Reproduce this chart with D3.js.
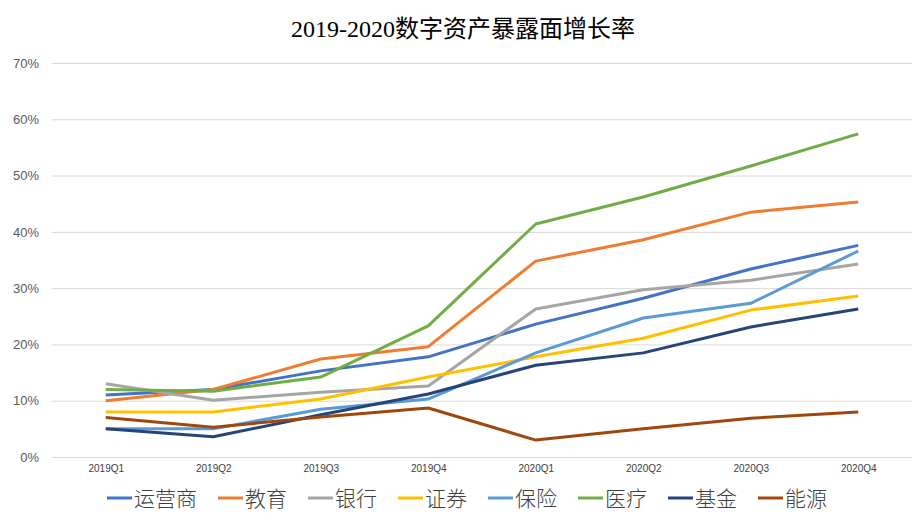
<!DOCTYPE html>
<html>
<head>
<meta charset="utf-8">
<script src="https://cdn.jsdelivr.net/npm/d3@7"></script>
<style>
  body { margin: 0; background: #fff; }
</style>
</head>
<body>
<div id="chart"></div>
<script>
var quarters = ["2019Q1", "2019Q2", "2019Q3", "2019Q4", "2020Q1", "2020Q2", "2020Q3", "2020Q4"];
var seriesNames = ["运营商", "教育", "银行", "证券", "保险", "医疗", "基金", "能源"];
var colors = ["#4472C4", "#ED7D31", "#A5A5A5", "#FFC000", "#5B9BD5", "#70AD47", "#264478", "#9E480E"];

var yunying = [0.110, 0.120, 0.153, 0.178, 0.236, 0.282, 0.334, 0.376];
var jiaoyu  = [0.100, 0.120, 0.174, 0.196, 0.348, 0.386, 0.435, 0.453];
var yinhang = [0.130, 0.101, 0.115, 0.126, 0.263, 0.297, 0.314, 0.343];
var zhengquan = [0.080, 0.080, 0.103, 0.142, 0.178, 0.211, 0.261, 0.286];
var baoxian = [0.050, 0.050, 0.085, 0.103, 0.185, 0.247, 0.273, 0.366];
var yiliao  = [0.120, 0.117, 0.142, 0.233, 0.414, 0.462, 0.517, 0.574];
var jijin   = [0.050, 0.036, 0.075, 0.112, 0.163, 0.185, 0.231, 0.263];
var nengyuan = [0.070, 0.053, 0.071, 0.087, 0.030, 0.050, 0.069, 0.080];

var yTicks = [0, 0.1, 0.2, 0.3, 0.4, 0.5, 0.6, 0.7];

var allValues = [yunying, jiaoyu, yinhang, zhengquan, baoxian, yiliao, jijin, nengyuan];
var series = seriesNames.map(function(n, i) {
	return { name: n, color: colors[i], values: allValues[i] };
});

var width = 922, height = 524;
var svg = d3.select("#chart").append("svg")
	.attr("width", width)
	.attr("height", height);

var x = d3.scalePoint().domain(quarters).range([52, 912]).padding(0.5);
var y = d3.scaleLinear().domain([0, 0.7]).range([457, 63]);

// title
svg.append("text")
	.attr("x", 463)
	.attr("y", 37)
	.attr("text-anchor", "middle")
	.attr("font-family", "'Liberation Serif', 'Noto Sans CJK SC', serif")
	.attr("font-size", "24px")
	.attr("fill", "#000")
	.text("2019-2020数字资产暴露面增长率");

// gridlines + y labels
var yAxis = d3.axisLeft(y).tickValues(yTicks).tickSize(-860).tickFormat(d3.format(".0%"));
var gy = svg.append("g").attr("transform", "translate(52,0)").call(yAxis);
gy.select(".domain").remove();
gy.selectAll(".tick line").attr("stroke", "#d9d9d9").attr("stroke-width", 1);
gy.selectAll(".tick text")
	.attr("x", -13)
	.attr("fill", "#595959")
	.attr("font-family", "'Liberation Sans', Arial, sans-serif")
	.attr("font-size", "13px");

// x labels
var xAxis = d3.axisBottom(x).tickSize(0);
var gx = svg.append("g").attr("transform", "translate(0,457)").call(xAxis);
gx.select(".domain").remove();
gx.selectAll(".tick text")
	.attr("dy", "12px")
	.attr("fill", "#404040")
	.attr("font-family", "'Liberation Sans', Arial, sans-serif")
	.attr("font-size", "10px");

// lines
var line = d3.line()
	.x(function(d, i) { return x(quarters[i]); })
	.y(function(d) { return y(d); });

svg.selectAll("path.series")
	.data(series)
	.enter()
		.append("path")
		.attr("class", "series")
		.attr("fill", "none")
		.attr("stroke", function(d) { return d.color; })
		.attr("stroke-width", 3)
		.attr("stroke-linejoin", "round")
		.attr("d", function(d) { return line(d.values); });

// legend
var legend = svg.append("g");
var items = legend.selectAll("g")
	.data(series)
	.enter()
		.append("g");
items.append("line")
	.attr("x1", 0).attr("x2", 25)
	.attr("y1", 0).attr("y2", 0)
	.attr("stroke", function(d) { return d.color; })
	.attr("stroke-width", 3);
items.append("text")
	.attr("x", 27)
	.attr("y", 8)
	.attr("font-family", "'Noto Sans CJK SC', sans-serif")
	.attr("font-size", "21px")
	.attr("font-weight", 300)
	.attr("fill", "#404040")
	.text(function(d) { return d.name; });

var gap = 21;
var pos = 0;
items.each(function() {
	var g = d3.select(this);
	g.attr("transform", "translate(" + pos + ",0)");
	pos += 27 + g.select("text").node().getComputedTextLength() + gap;
});
var total = pos - gap;
legend.attr("transform", "translate(" + (467 - total / 2) + ",498)");
</script>
</body>
</html>
